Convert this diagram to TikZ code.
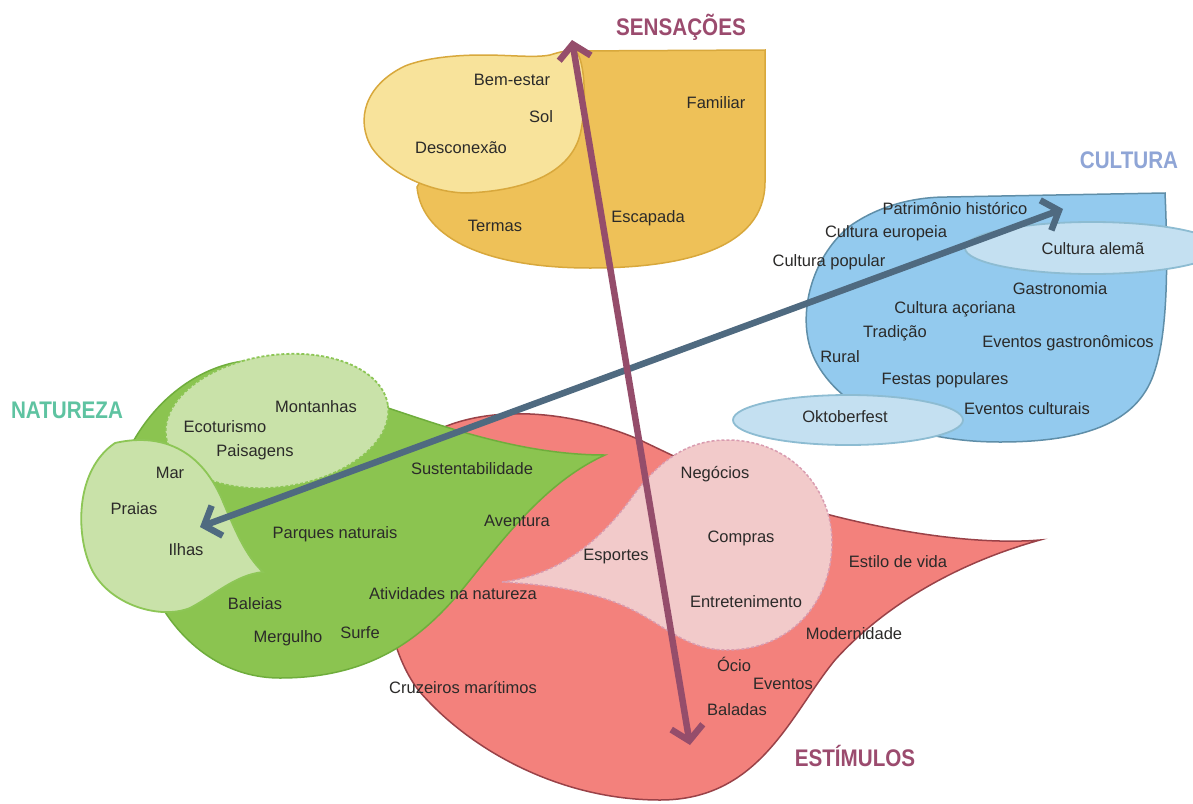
\documentclass[tikz,border=0pt]{standalone}
\usepackage{fontspec}
\setmainfont{Liberation Sans}
\newfontfamily\ttlfam{Liberation Sans}[FakeStretch=0.86]
\usetikzlibrary{arrows.meta}
\definecolor{txt}{HTML}{2B2A29}
\definecolor{yelF}{HTML}{EEC158}
\definecolor{yelD}{HTML}{D8A83C}
\definecolor{lyelF}{HTML}{F8E39B}
\definecolor{bluF}{HTML}{93CAEE}
\definecolor{bluD}{HTML}{5F8EA8}
\definecolor{lbluF}{HTML}{C4E0F1}
\definecolor{lbluD}{HTML}{8DBCD2}
\definecolor{grnF}{HTML}{8BC450}
\definecolor{grnD}{HTML}{6FAD3C}
\definecolor{lgrnF}{HTML}{C9E2A9}
\definecolor{lgrnD}{HTML}{8DC656}
\definecolor{redF}{HTML}{F3817C}
\definecolor{redD}{HTML}{9A4248}
\definecolor{pnkF}{HTML}{F2CACA}
\definecolor{pnkD}{HTML}{D99CB0}
\definecolor{purA}{HTML}{954D6B}
\definecolor{slaA}{HTML}{4F6A80}
\definecolor{ttlP}{HTML}{9B4B6E}
\definecolor{ttlB}{HTML}{8FA5D6}
\definecolor{ttlG}{HTML}{5EC3A1}
\begin{document}
\begin{tikzpicture}[x=1pt,y=-1pt,
  lbl/.style={font=\fontsize{16.5}{18}\selectfont, text=txt, inner sep=0pt},
  ttl/.style={font=\ttlfam\bfseries\fontsize{24}{26}\selectfont, inner sep=0pt},
  yelshape/.style={fill=yelF, draw=yelD, line width=1.5pt},
  lyelshape/.style={fill=lyelF, draw=yelD, line width=1.5pt},
  blushape/.style={fill=bluF, draw=bluD, line width=1.5pt},
  lblushape/.style={fill=lbluF, draw=lbluD, line width=1.8pt},
  grnshape/.style={fill=grnF, draw=grnD, line width=1.5pt},
  lgrnshape/.style={fill=lgrnF, draw=lgrnD, line width=1.8pt},
  lgrndash/.style={fill=lgrnF, draw=lgrnD, line width=1.8pt, dash pattern=on 3pt off 2pt},
  redshape/.style={fill=redF, draw=redD, line width=1.5pt},
  pnkshape/.style={fill=pnkF, draw=pnkD, line width=1.5pt, dash pattern=on 3pt off 2pt},
  dblarrow/.style={line width=6.5pt, {Straight Barb[length=14pt,width=32pt]}-{Straight Barb[length=14pt,width=32pt]}}
]
\useasboundingbox (0,0) rectangle (1193,803);
\fill[white] (0,0) rectangle (1193,803);
\begin{scope}
\clip (0,0) rectangle (1193,803);
% yellow (sensacoes)
\draw[yelshape] (570,51) -- (765,50) -- (765,182) .. controls (765,250) and (680,268) .. (590,268) .. controls (490,268) and (422,240) .. (417,187) -- (450,130) -- cycle;
\draw[lyelshape] (483,55) .. controls (510,55) and (535,58) .. (550,55) .. controls (560,52) and (572,48) .. (578,54) .. controls (586,70) and (586,110) .. (580,135) .. controls (572,165) and (540,190) .. (467,193) .. controls (440,193) and (395,180) .. (372,148) .. controls (355,120) and (365,85) .. (405,66) .. controls (425,58) and (455,55) .. (483,55) -- cycle;
% blue (cultura)
\draw[blushape] (947,197) -- (1165,193) .. controls (1168,260) and (1168,330) .. (1155,370) .. controls (1140,420) and (1090,442) .. (1000,442) .. controls (910,442) and (840,410) .. (815,360) .. controls (795,320) and (810,258) .. (850,226) .. controls (880,205) and (915,197) .. (947,197);
\draw[lblushape] (1092,248) ellipse [x radius=127, y radius=26];
\draw[lblushape] (848,420) ellipse [x radius=115, y radius=25];
% red (estimulos)
\draw[redshape] (420,440) .. controls (470,405) and (560,405) .. (640,440) .. controls (720,478) and (770,503) .. (830,515) .. controls (900,533) and (980,545) .. (1040,540) .. controls (950,565) and (880,610) .. (835,660) .. controls (790,715) and (760,800) .. (660,800) .. controls (560,800) and (470,750) .. (420,692) .. controls (395,662) and (378,600) .. (380,520) -- cycle;
% green (natureza)
\draw[grnshape] (134,440) .. controls (160,395) and (205,362) .. (255,360) -- (340,370) -- (385,407) .. controls (440,425) and (520,455) .. (605,455) .. controls (550,480) and (510,530) .. (470,580) .. controls (430,630) and (380,678) .. (280,678) .. controls (230,678) and (190,650) .. (165,612) -- cycle;
\draw[lgrndash, rotate around={8:(277,421)}] (277,421) ellipse [x radius=112, y radius=66];
\draw[lgrnshape] (115,443) .. controls (150,435) and (195,440) .. (221,497) .. controls (235,530) and (245,555) .. (263,572) .. controls (235,575) and (215,595) .. (190,608) .. controls (160,620) and (110,605) .. (92,570) .. controls (75,535) and (75,470) .. (115,443) -- cycle;
% pink
\draw[pnkshape] (502,582) .. controls (560,575) and (600,540) .. (630,500) .. controls (660,458) and (690,440) .. (727,440) .. controls (792,440) and (832,490) .. (832,542) .. controls (832,603) and (790,650) .. (727,650) .. controls (692,650) and (672,632) .. (642,615) .. controls (602,592) and (552,585) .. (502,582) -- cycle;
\end{scope}
% arrows
\coordinate (sTop) at (572,40);
\coordinate (sBot) at (690,745);
\coordinate (nEnd) at (200,527);
\coordinate (cEnd) at (1063,209);
\draw[dblarrow, slaA] (nEnd) -- (cEnd);
\draw[dblarrow, purA] (sTop) -- (sBot);
% titles
\node[ttl, text=ttlP] (tSens) at (681,27) {SENSAÇÕES};
\node[ttl, text=ttlB] (tCult) at (1129,160) {CULTURA};
\node[ttl, text=ttlG] (tNat) at (67,410) {NATUREZA};
\node[ttl, text=ttlP] (tEst) at (855,756) {ESTÍMULOS};
% sensacoes labels
\node[lbl] (l1) at (512,80) {Bem-estar};
\node[lbl] (l2) at (541,117) {Sol};
\node[lbl] (l3) at (461,148) {Desconexão};
\node[lbl] (l4) at (716,103) {Familiar};
\node[lbl] (l5) at (495,226) {Termas};
\node[lbl] (l6) at (648,218) {Escapada};
% cultura labels
\node[lbl] (c1) at (955,209) {Patrimônio histórico};
\node[lbl] (c2) at (886,233) {Cultura europeia};
\node[lbl] (c3) at (829,262) {Cultura popular};
\node[lbl] (c4) at (1093,249) {Cultura alemã};
\node[lbl] (c5) at (1060,289) {Gastronomia};
\node[lbl] (c6) at (955,309) {Cultura açoriana};
\node[lbl] (c7) at (895,333) {Tradição};
\node[lbl] (c8) at (1068,343) {Eventos gastronômicos};
\node[lbl] (c9) at (840,357) {Rural};
\node[lbl] (c10) at (945,380) {Festas populares};
\node[lbl] (c11) at (845,417) {Oktoberfest};
\node[lbl] (c12) at (1027,409) {Eventos culturais};
% natureza labels
\node[lbl] (n1) at (316,407) {Montanhas};
\node[lbl] (n2) at (225,427) {Ecoturismo};
\node[lbl] (n3) at (255,452) {Paisagens};
\node[lbl] (n4) at (170,473) {Mar};
\node[lbl] (n5) at (134,509) {Praias};
\node[lbl] (n6) at (186,550) {Ilhas};
\node[lbl] (n7) at (472,469) {Sustentabilidade};
\node[lbl] (n8) at (335,534) {Parques naturais};
\node[lbl] (n9) at (517,521) {Aventura};
\node[lbl] (n10) at (255,604) {Baleias};
\node[lbl] (n11) at (453,594) {Atividades na natureza};
\node[lbl] (n12) at (288,638) {Mergulho};
\node[lbl] (n13) at (360,633) {Surfe};
% estimulos labels
\node[lbl] (e1) at (715,474) {Negócios};
\node[lbl] (e2) at (741,538) {Compras};
\node[lbl] (e3) at (616,557) {Esportes};
\node[lbl] (e4) at (898,562) {Estilo de vida};
\node[lbl] (e5) at (746,602) {Entretenimento};
\node[lbl] (e6) at (854,634) {Modernidade};
\node[lbl] (e7) at (463,687) {Cruzeiros marítimos};
\node[lbl] (e8) at (734,664) {Ócio};
\node[lbl] (e9) at (783,684) {Eventos};
\node[lbl] (e10) at (737,710) {Baladas};
\end{tikzpicture}
\end{document}
